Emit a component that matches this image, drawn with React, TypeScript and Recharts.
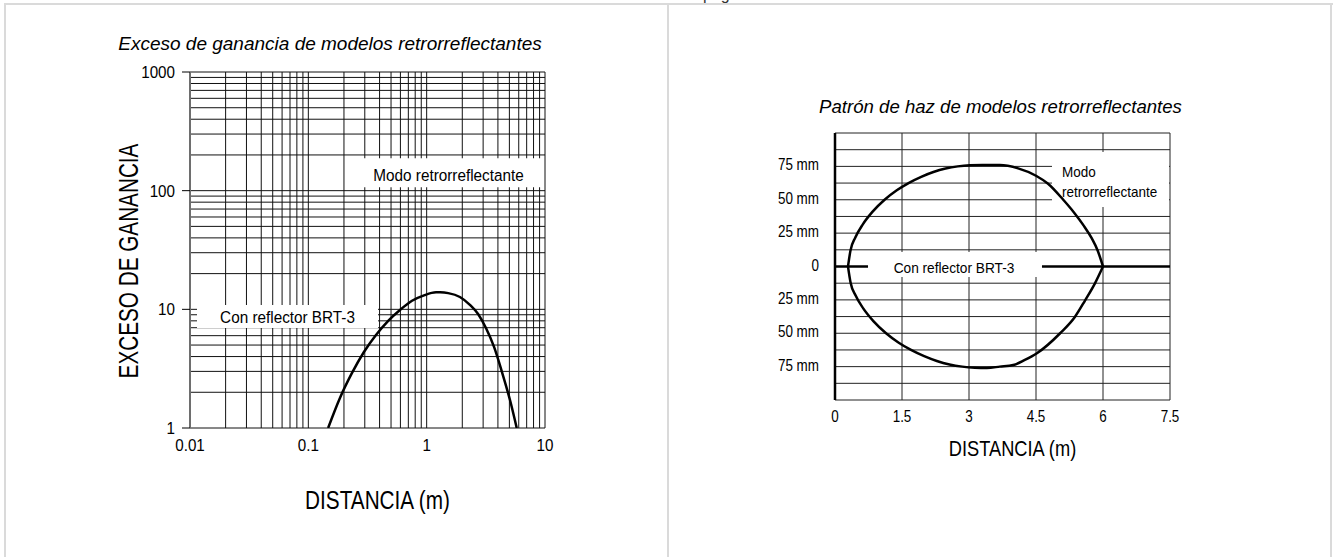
import React from "react";
import {
  LineChart,
  Line,
  XAxis,
  YAxis,
  CartesianGrid,
  ReferenceArea,
  ReferenceLine,
} from "recharts";

const FONT = "'Liberation Sans', Arial, Helvetica, sans-serif";
const FRAME = "#dadada";
const INK = "#000";

// Exceso de ganancia (log-log)
const gainDistance = [0.147, 0.185, 0.234, 0.295, 0.373, 0.471, 0.595, 0.752, 0.95, 1.2, 1.3, 1.52, 1.91, 2.32, 2.72, 3.17, 3.71, 4.33, 5.06, 5.77];
const gainExcess = [1, 1.79, 2.91, 4.37, 6.08, 7.97, 9.87, 11.8, 13.1, 13.9, 13.9, 13.7, 12.7, 10.9, 9.13, 6.96, 4.82, 2.96, 1.72, 1];
const gainXTicks = [
  0.01, 0.02, 0.03, 0.04, 0.05, 0.06, 0.07, 0.08, 0.09,
  0.1, 0.2, 0.3, 0.4, 0.5, 0.6, 0.7, 0.8, 0.9,
  1, 2, 3, 4, 5, 6, 7, 8, 9, 10,
];
const gainYTicks = [
  1, 2, 3, 4, 5, 6, 7, 8, 9,
  10, 20, 30, 40, 50, 60, 70, 80, 90,
  100, 200, 300, 400, 500, 600, 700, 800, 900, 1000,
];
const gainXLabels = [0.01, 0.1, 1, 10];
const gainYLabels = [1, 10, 100, 1000];

// Patrón de haz
const beamUpperX = [0.291, 0.346, 0.455, 0.619, 0.837, 1.11, 1.383, 1.657, 1.93, 2.203, 2.476, 2.749, 3.022, 3.3, 3.69, 4.1, 4.5, 4.77, 5.11, 5.35, 5.56, 5.75, 5.88, 6.0];
const beamUpperY = [0, 11.9, 21.7, 31.4, 40.9, 50, 57.1, 62.7, 67.2, 70.8, 73.4, 75, 75.8, 76, 76, 73.5, 68, 62, 50, 40.5, 31, 21, 12, 0];
const beamLowerX = [0.291, 0.348, 0.462, 0.632, 0.859, 1.143, 1.427, 1.712, 1.996, 2.28, 2.563, 2.847, 3.131, 3.4, 3.69, 3.99, 4.25, 4.52, 5.04, 5.37, 5.6, 5.82, 6.0];
const beamLowerY = [0, -11.9, -21.7, -31.4, -40.9, -50, -57.1, -62.7, -67.2, -70.8, -73.4, -75, -75.8, -76, -75, -73.8, -70, -65, -50, -37.8, -25.3, -12.6, 0];
const beamXTicks = [0, 1.5, 3, 4.5, 6, 7.5];
const beamYGrid = [-87.5, -75, -62.5, -50, -37.5, -25, -12.5, 0, 12.5, 25, 37.5, 50, 62.5, 75, 87.5];
const beamLabelValues = [75, 50, 25, 0, -25, -50, -75];
const mmLabels = ["75 mm", "50 mm", "25 mm", "0", "25 mm", "50 mm", "75 mm"];
const pulgLabels = ["3 pulg.", "2 pulg.", "1 pulg.", "0", "1 pulg.", "2 pulg.", "3 pulg."];

const gainData = gainDistance.map((x, i) => ({ x, y: gainExcess[i] }));
const upperData = beamUpperX.map((x, i) => ({ x, y: beamUpperY[i] }));
const lowerData = beamLowerX.map((x, i) => ({ x, y: beamLowerY[i] }));

function NText({ x, y, size, sx = 1, anchor = "middle", rotate = 0, italic = false, children }: any) {
  return (
    <text
      transform={`translate(${x},${y}) rotate(${rotate}) scale(${sx},1)`}
      fontSize={size}
      fontFamily={FONT}
      fontStyle={italic ? "italic" : "normal"}
      textAnchor={anchor}
      fill={INK}
    >
      {children}
    </text>
  );
}

const GainXTick = ({ x, y, payload }: any) => {
  if (!gainXLabels.includes(payload.value)) return <g />;
  return (
    <NText x={x} y={y + 23} size={16} sx={0.95}>
      {payload.value}
    </NText>
  );
};

const GainYTick = ({ x, y, payload }: any) => {
  if (!gainYLabels.includes(payload.value)) return <g />;
  return (
    <g>
      <line x1={x - 8} x2={x} y1={y} y2={y} stroke={INK} />
      <NText x={x - 15} y={y + 6} size={16} sx={0.95} anchor="end">
        {payload.value}
      </NText>
    </g>
  );
};

const BeamXTick = ({ x, y, payload }: any) => (
  <NText x={x} y={y + 22} size={16} sx={0.84}>
    {payload.value}
  </NText>
);

const BeamMmTick = ({ x, y, payload }: any) => {
  const i = beamLabelValues.indexOf(payload.value);
  if (i < 0) return <g />;
  return (
    <NText x={x - 16} y={y + 4} size={16} sx={0.84} anchor="end">
      {mmLabels[i]}
    </NText>
  );
};

const BeamPulgTick = ({ x, y, payload }: any) => {
  const i = beamLabelValues.indexOf(payload.value);
  if (i < 0) return <g />;
  return (
    <NText x={x + 14} y={y + 4} size={16} sx={0.84} anchor="start">
      {pulgLabels[i]}
    </NText>
  );
};

function GainChart() {
  return (
    <LineChart
      width={668}
      height={557}
      data={gainData}
      margin={{ top: 72, right: 123, bottom: 99, left: 130 }}
      style={{ position: "absolute", left: 0, top: 0 }}
    >
      <CartesianGrid stroke="#111" strokeWidth={1} />
      <XAxis
        dataKey="x"
        type="number"
        scale="log"
        domain={[0.01, 10]}
        allowDataOverflow
        ticks={gainXTicks}
        interval={0}
        height={30}
        tickSize={0}
        tickMargin={0}
        tickLine={false}
        axisLine={false}
        tick={<GainXTick />}
        label={{
          content: ({ viewBox }: any) => (
            <NText x={viewBox.x + viewBox.width / 2 + 10} y={viewBox.y + 81} size={25} sx={0.83}>
              DISTANCIA (m)
            </NText>
          ),
        }}
      />
      <YAxis
        type="number"
        scale="log"
        domain={[1, 1000]}
        allowDataOverflow
        ticks={gainYTicks}
        interval={0}
        width={60}
        tickSize={0}
        tickMargin={0}
        tickLine={false}
        axisLine={{ stroke: "#6e6e6e", strokeWidth: 2 }}
        tick={<GainYTick />}
        label={{
          content: ({ viewBox }: any) => (
            <NText x={viewBox.x + 8} y={viewBox.y + viewBox.height / 2 + 11} size={28} sx={0.74} rotate={-90}>
              EXCESO DE GANANCIA
            </NText>
          ),
        }}
      />
      <ReferenceArea
        x1={0.284}
        x2={9.62}
        y1={107}
        y2={188}
        fill="#fff"
        fillOpacity={1}
        stroke="none"
        label={{
          content: ({ viewBox }: any) => (
            <NText x={viewBox.x + viewBox.width / 2 - 4} y={viewBox.y + 23} size={17} sx={0.9}>
              Modo retrorreflectante
            </NText>
          ),
        }}
      />
      <ReferenceArea
        x1={0.01146}
        x2={0.388}
        y1={6.96}
        y2={10.88}
        fill="#fff"
        fillOpacity={1}
        stroke="none"
        label={{
          content: ({ viewBox }: any) => (
            <NText x={viewBox.x + viewBox.width / 2} y={viewBox.y + 18} size={17} sx={0.9}>
              Con reflector BRT-3
            </NText>
          ),
        }}
      />
      <Line
        dataKey="y"
        type="monotone"
        stroke={INK}
        strokeWidth={2.5}
        dot={false}
        activeDot={false}
        isAnimationActive={false}
      />
    </LineChart>
  );
}

function BeamChart() {
  return (
    <LineChart
      width={665}
      height={557}
      margin={{ top: 133, right: 103, bottom: 127, left: 107 }}
      style={{ position: "absolute", left: 668, top: 0 }}
    >
      <CartesianGrid stroke="#222" strokeWidth={1} />
      <XAxis
        dataKey="x"
        type="number"
        domain={[0, 7.5]}
        ticks={beamXTicks}
        interval={0}
        height={30}
        tickSize={0}
        tickMargin={0}
        tickLine={false}
        axisLine={false}
        tick={<BeamXTick />}
        label={{
          content: ({ viewBox }: any) => (
            <NText x={viewBox.x + viewBox.width / 2 + 10} y={viewBox.y + 56} size={22} sx={0.83}>
              DISTANCIA (m)
            </NText>
          ),
        }}
      />
      <YAxis
        type="number"
        domain={[-100, 100]}
        ticks={beamYGrid}
        interval={0}
        width={60}
        tickSize={0}
        tickMargin={0}
        tickLine={false}
        axisLine={{ stroke: INK, strokeWidth: 2.5 }}
        tick={<BeamMmTick />}
      />
      <YAxis
        yAxisId="r"
        orientation="right"
        type="number"
        domain={[-100, 100]}
        ticks={beamYGrid}
        interval={0}
        width={60}
        tickSize={0}
        tickMargin={0}
        tickLine={false}
        axisLine={false}
        tick={<BeamPulgTick />}
      />
      <ReferenceArea
        x1={4.858}
        x2={7.478}
        y1={44.6}
        y2={85.8}
        fill="#fff"
        fillOpacity={1}
        stroke="none"
        label={{
          content: ({ viewBox }: any) => (
            <g>
              <NText x={viewBox.x + 10} y={viewBox.y + 24.7} size={15} sx={0.9} anchor="start">
                Modo
              </NText>
              <NText x={viewBox.x + 10} y={viewBox.y + 44.7} size={15} sx={0.9} anchor="start">
                retrorreflectante
              </NText>
            </g>
          ),
        }}
      />
      <ReferenceArea
        x1={0.739}
        x2={4.634}
        y1={-7.9}
        y2={10.9}
        fill="#fff"
        fillOpacity={1}
        stroke="none"
        label={{
          content: ({ viewBox }: any) => (
            <NText x={viewBox.x + viewBox.width / 2 - 1} y={viewBox.y + 21.3} size={15.4} sx={0.89}>
              Con reflector BRT-3
            </NText>
          ),
        }}
      />
      <ReferenceLine segment={[{ x: 0, y: 0 }, { x: 0.739, y: 0 }]} stroke={INK} strokeWidth={2.5} />
      <ReferenceLine segment={[{ x: 4.634, y: 0 }, { x: 7.5, y: 0 }]} stroke={INK} strokeWidth={2.5} />
      <Line
        data={upperData}
        dataKey="y"
        type="monotone"
        stroke={INK}
        strokeWidth={2.5}
        dot={false}
        activeDot={false}
        isAnimationActive={false}
      />
      <Line
        data={lowerData}
        dataKey="y"
        type="monotone"
        stroke={INK}
        strokeWidth={2.5}
        dot={false}
        activeDot={false}
        isAnimationActive={false}
      />
    </LineChart>
  );
}

export default function App() {
  return (
    <div style={{ position: "absolute", left: 0, top: 0, width: 1333, height: 557, background: "#fff", overflow: "hidden" }}>
      <svg width={1333} height={557} style={{ position: "absolute", left: 0, top: 0 }}>
        <rect x={4} y={3} width={1329} height={2} fill={FRAME} />
        <rect x={4} y={3} width={2} height={554} fill={FRAME} />
        <rect x={667} y={3} width={2} height={554} fill={FRAME} />
        <rect x={1330} y={3} width={2} height={554} fill={FRAME} />
        <text x={703} y={0} fontSize={16} fontFamily={FONT} fill="#333">pág.</text>
        <NText x={330} y={50} size={19} italic>
          Exceso de ganancia de modelos retrorreflectantes
        </NText>
        <NText x={1000.5} y={113} size={18.6} italic>
          Patrón de haz de modelos retrorreflectantes
        </NText>
      </svg>
      <GainChart />
      <BeamChart />
    </div>
  );
}
